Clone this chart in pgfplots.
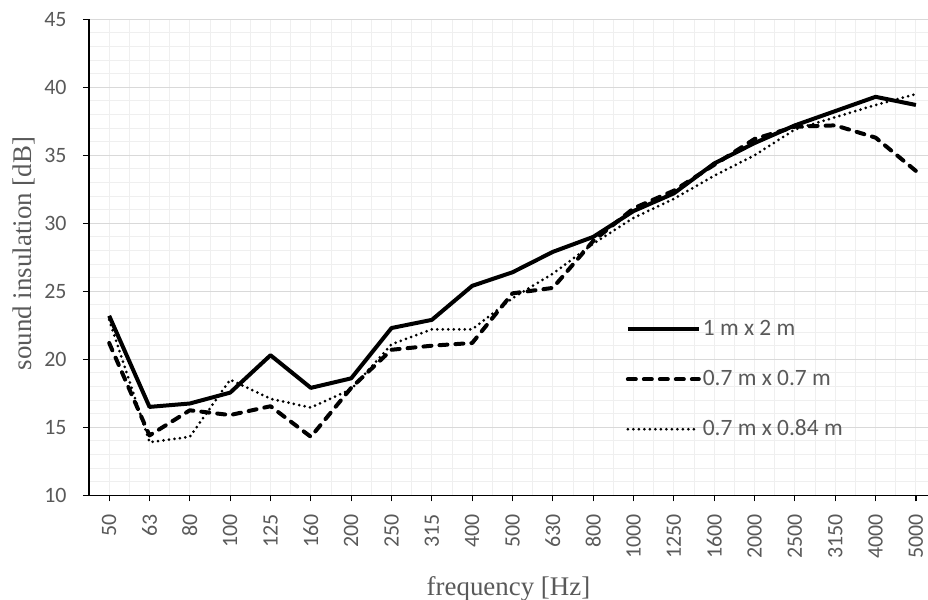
\documentclass[border=0pt]{standalone}
\usepackage{fontspec}
\setmainfont{Liberation Serif}
\newfontfamily\calibrifont{Carlito}
\usepackage{pgfplots}
\pgfplotsset{compat=1.18}
\definecolor{labelgray}{HTML}{595959}
\definecolor{gridmajor}{HTML}{D9D9D9}
\definecolor{gridminor}{HTML}{EFEFEF}

\begin{document}
\begin{tikzpicture}
\path[use as bounding box] (-89bp,-104.7bp) rectangle (839bp,495.3bp);
\begin{axis}[
  at={(0,0)}, anchor=south west,
  scale only axis, width=839bp, height=476bp,
  xmin=-0.5, xmax=20.3, ymin=10, ymax=45,
  xtick={0,...,20},
  xticklabels={50,63,80,100,125,160,200,250,315,400,500,630,800,1000,1250,1600,2000,2500,3150,4000,5000},
  ytick={10,15,...,45},
  minor x tick num=1, minor y tick num=4,
  grid=both,
  major x grid style={gridminor, line width=1bp},
  minor x grid style={gridminor, line width=1bp},
  major y grid style={gridmajor, line width=1bp},
  minor y grid style={gridminor, line width=1bp},
  axis x line*=bottom, axis y line*=left,
  axis line style={-, black, line width=1.5bp},
  major tick length=6bp, minor tick length=0pt, tick align=outside,
  tick style={black, line width=1.2bp},
  /pgf/number format/assume math mode=true,
  ticklabel style={font=\calibrifont\fontsize{22}{22}\selectfont, text=labelgray},
  xticklabel style={inner ysep=1bp, yshift=-9.5bp, rotate=90, anchor=east},
  yticklabel style={xshift=-13bp},
  xlabel={frequency [Hz]},
  ylabel={sound insulation [dB]},
  xlabel style={font=\fontsize{27}{27}\selectfont, text=labelgray, at={(axis description cs:0.5,-0.2095)}, anchor=base},
  ylabel style={font=\fontsize{27}{27}\selectfont, text=labelgray, at={(axis description cs:-0.068,0.508)}, anchor=base},
  legend style={at={(axis cs:12.73,23.33)}, anchor=north west, draw=none, fill=none,
    font=\calibrifont\fontsize{23.5}{23.5}\selectfont, text=labelgray, row sep=24bp,
    nodes={inner sep=2bp, text height=17bp, text depth=5bp}},
  legend cell align=left,
  legend image code/.code={\draw[#1] (0bp,0bp) -- (71bp,0bp);},
]
\addplot[black, line width=4bp, line join=round] coordinates {
  (0,23.2) (1,16.5) (2,16.75) (3,17.55) (4,20.3) (5,17.9) (6,18.6) (7,22.3)
  (8,22.9) (9,25.4) (10,26.4) (11,27.9) (12,29.0) (13,30.9) (14,32.2) (15,34.4)
  (16,35.9) (17,37.2) (18,38.25) (19,39.3) (20,38.7)};
\addplot[black, line width=4bp, dash pattern=on 8bp off 8bp, line cap=round, line join=round] coordinates {
  (0,21.2) (1,14.4) (2,16.25) (3,15.9) (4,16.55) (5,14.3) (6,17.9) (7,20.7)
  (8,21.0) (9,21.2) (10,24.85) (11,25.25) (12,28.7) (13,31.1) (14,32.4) (15,34.3)
  (16,36.2) (17,37.1) (18,37.2) (19,36.3) (20,33.85)};
\addplot[black, line width=3bp, dash pattern=on 0bp off 5.5bp, line cap=round, line join=round] coordinates {
  (0,22.9) (1,13.9) (2,14.3) (3,18.5) (4,17.1) (5,16.45) (6,17.8) (7,21.1)
  (8,22.2) (9,22.2) (10,24.5) (11,26.3) (12,28.5) (13,30.4) (14,31.8) (15,33.5)
  (16,35.0) (17,36.9) (18,37.8) (19,38.7) (20,39.5)};
\legend{1 m x 2 m, 0.7 m x 0.7 m, 0.7 m x 0.84 m}
\end{axis}
\end{tikzpicture}
\end{document}
